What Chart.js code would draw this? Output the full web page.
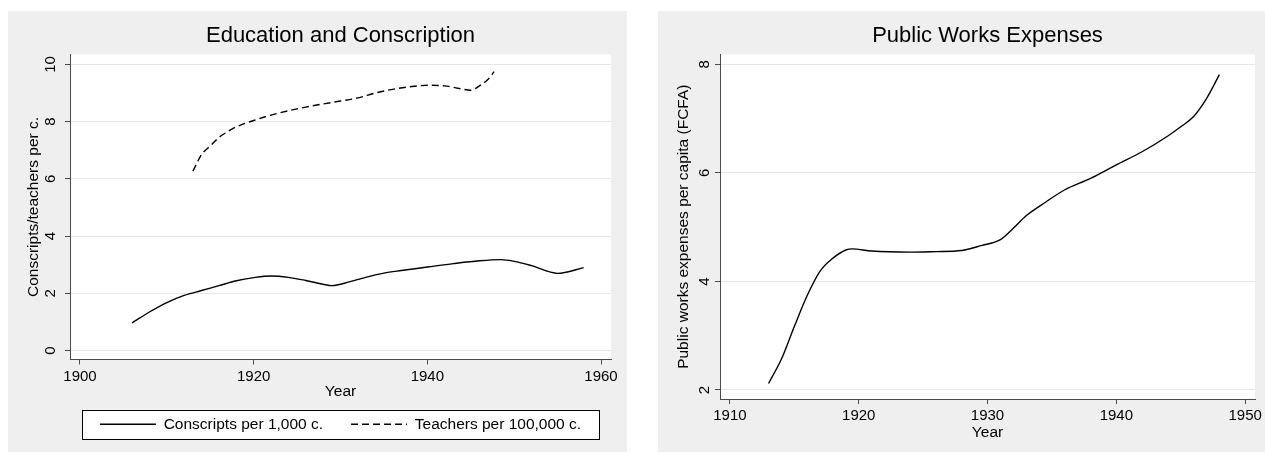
<!DOCTYPE html>
<html>
<head>
<meta charset="utf-8">
<title>Education and Conscription / Public Works Expenses</title>
<script src="https://cdn.jsdelivr.net/npm/chart.js@4.4.1/dist/chart.umd.min.js"></script>
<style>
  html, body { margin: 0; padding: 0; background: #ffffff; }
  body { width: 1265px; height: 454px; position: relative; overflow: hidden; }
  .panel { position: absolute; top: 11px; height: 441px; background: #efefef; }
  #leftPanel { left: 8px; width: 619px; }
  #rightPanel { left: 658px; width: 607px; }
  canvas { display: block; }
</style>
</head>
<body>
<div class="panel" id="leftPanel"><canvas id="eduChart" width="619" height="441"></canvas></div>
<div class="panel" id="rightPanel"><canvas id="worksChart" width="607" height="441"></canvas></div>
<script>
// Conscripts per 1,000 c.
const conscriptYears = [1906, 1908, 1910, 1912, 1914, 1916, 1918, 1920, 1922, 1924, 1926, 1928, 1929, 1931, 1933, 1935, 1937, 1940, 1943, 1946, 1948.5, 1950, 1952, 1955, 1958];
const conscriptValues = [0.97, 1.35, 1.68, 1.93, 2.1, 2.27, 2.44, 2.55, 2.61, 2.56, 2.45, 2.32, 2.27, 2.4, 2.57, 2.71, 2.8, 2.92, 3.04, 3.14, 3.18, 3.12, 2.97, 2.7, 2.9];

// Teachers per 100,000 c.
const teacherYears = [1913, 1914, 1915, 1916, 1917, 1918, 1920, 1922, 1924, 1926, 1928, 1930, 1932, 1934, 1936, 1938, 1940, 1942, 1943, 1945, 1946, 1947, 1947.7];
const teacherValues = [6.27, 6.85, 7.15, 7.45, 7.65, 7.82, 8.04, 8.23, 8.38, 8.51, 8.62, 8.72, 8.83, 9.0, 9.13, 9.22, 9.27, 9.25, 9.2, 9.1, 9.25, 9.48, 9.75];

// Public works expenses per capita (FCFA)
const worksYears = [1913, 1914, 1915, 1916, 1917, 1918, 1919, 1919.5, 1921, 1924, 1926, 1928, 1929.5, 1931, 1932, 1933, 1934.5, 1936, 1938, 1940, 1942, 1944, 1945, 1946, 1947, 1948];
const worksValues = [2.12, 2.57, 3.17, 3.74, 4.19, 4.43, 4.58, 4.6, 4.56, 4.54, 4.55, 4.57, 4.66, 4.77, 4.98, 5.21, 5.46, 5.69, 5.9, 6.15, 6.39, 6.68, 6.85, 7.04, 7.37, 7.81];

// tick labels
const eduXTicks = [1900, 1920, 1940, 1960];
const eduYTicks = [0, 2, 4, 6, 8, 10];
const worksXTicks = [1910, 1920, 1930, 1940, 1950];
const worksYTicks = [2, 4, 6, 8];

const fontFamily = "Arial, 'Liberation Sans', sans-serif";
const axisColor = "#4a4a4a";
const gridColor = "#e6e6e6";
Chart.defaults.font.family = fontFamily;
Chart.defaults.color = "#000000";

const toPoints = (xs, ys) => xs.map((x, i) => ({ x: x, y: ys[i] }));

// white plot region inside the grey graph region
const plotBackground = {
  id: "plotBackground",
  beforeDraw(chart) {
    const { ctx, chartArea: a } = chart;
    ctx.save();
    ctx.fillStyle = "#ffffff";
    ctx.fillRect(a.left, a.top, a.right - a.left, a.bottom - a.top);
    ctx.restore();
  },
};

// framed white box behind the legend, Stata style
const legendFrame = {
  id: "legendFrame",
  beforeDraw(chart) {
    const legend = chart.legend;
    if (!legend || !legend.options.display) return;
    const { ctx, chartArea: a } = chart;
    const cx = (a.left + a.right) / 2;
    const cy = legend.top + legend.options.labels.padding + legend.options.labels.font.size / 2;
    const w = 517;
    const h = 29;
    ctx.save();
    ctx.fillStyle = "#ffffff";
    ctx.strokeStyle = "#000000";
    ctx.lineWidth = 1;
    ctx.fillRect(cx - w / 2, cy - h / 2, w, h);
    ctx.strokeRect(Math.round(cx - w / 2) + 0.5, Math.round(cy - h / 2) + 0.5, w, h);
    ctx.restore();
  },
};

function xScale(min, max, ticks, height, titlePadBottom) {
  return {
    type: "linear",
    min: min,
    max: max,
    afterBuildTicks: (s) => { s.ticks = ticks.map((v) => ({ value: v })); },
    afterFit: (s) => { s.height = height; },
    border: { color: axisColor, width: 1 },
    grid: { drawOnChartArea: false, tickLength: 5, tickColor: axisColor },
    ticks: {
      padding: 3,
      maxRotation: 0,
      color: "#000000",
      font: { size: 15 },
      callback: (v) => String(v),
    },
    title: {
      display: true,
      text: "Year",
      color: "#000000",
      font: { size: 15.5 },
      padding: { top: 0, bottom: titlePadBottom },
    },
  };
}

function yScale(min, max, ticks, label) {
  return {
    min: min,
    max: max,
    afterBuildTicks: (s) => { s.ticks = ticks.map((v) => ({ value: v })); },
    afterFit: (s) => { s.width = 62; },
    border: { color: axisColor, width: 1 },
    grid: { color: gridColor, lineWidth: 1, tickLength: 5, tickColor: axisColor },
    ticks: {
      minRotation: 90,
      maxRotation: 90,
      crossAlign: "center",
      padding: 6,
      color: "#000000",
      font: { size: 15 },
    },
    title: {
      display: true,
      text: label,
      color: "#000000",
      font: { size: 15.5 },
      padding: { top: 16, bottom: 0 },
    },
  };
}

const titleOptions = (text) => ({
  display: true,
  text: text,
  fullSize: false,
  color: "#000000",
  font: { size: 22, weight: "normal" },
  padding: { top: 12, bottom: 5 },
});

// legend samples keep the dataset's own dash pattern
const lineLegendLabels = (chart) =>
  Chart.defaults.plugins.legend.labels.generateLabels(chart).map((item) => {
    const ds = chart.data.datasets[item.datasetIndex];
    return Object.assign(item, {
      lineDash: ds.borderDash || [],
      lineWidth: ds.borderWidth,
      strokeStyle: ds.borderColor,
      fillStyle: "transparent",
    });
  });

// Education and Conscription
const eduCtx = document.getElementById("eduChart").getContext("2d");
window.eduChart = new Chart(eduCtx, {
  type: "line",
  data: {
    datasets: [
      {
        label: "Conscripts per 1,000 c.",
        data: toPoints(conscriptYears, conscriptValues),
        borderColor: "#000000",
        backgroundColor: "transparent",
        borderWidth: 1.4,
        pointRadius: 0,
        cubicInterpolationMode: "monotone",
      },
      {
        label: "Teachers per 100,000 c.",
        data: toPoints(teacherYears, teacherValues),
        borderColor: "#000000",
        backgroundColor: "transparent",
        borderWidth: 1.4,
        borderDash: [7, 4],
        pointRadius: 0,
        cubicInterpolationMode: "monotone",
      },
    ],
  },
  options: {
    responsive: false,
    animation: false,
    layout: { padding: { left: 0, right: 16, top: 0, bottom: 10 } },
    scales: {
      x: xScale(1898.85, 1961.15, eduXTicks, 29, -13),
      y: yScale(-0.31, 10.35, eduYTicks, "Conscripts/teachers per c."),
    },
    plugins: {
      title: titleOptions("Education and Conscription"),
      legend: {
        display: true,
        position: "bottom",
        fullSize: false,
        labels: {
          usePointStyle: true,
          pointStyle: "line",
          pointStyleWidth: 56,
          padding: 28,
          color: "#000000",
          font: { size: 15.5 },
          generateLabels: lineLegendLabels,
        },
      },
      tooltip: { enabled: false },
    },
  },
  plugins: [plotBackground, legendFrame],
});

// Public Works Expenses
const worksCtx = document.getElementById("worksChart").getContext("2d");
window.worksChart = new Chart(worksCtx, {
  type: "line",
  data: {
    datasets: [
      {
        label: "Public works expenses per capita (FCFA)",
        data: toPoints(worksYears, worksValues),
        borderColor: "#000000",
        backgroundColor: "transparent",
        borderWidth: 1.4,
        pointRadius: 0,
        cubicInterpolationMode: "monotone",
      },
    ],
  },
  options: {
    responsive: false,
    animation: false,
    layout: { padding: { left: 0, right: 4, top: 0, bottom: 10 } },
    scales: {
      x: xScale(1909.23, 1950.77, worksXTicks, 43, 0),
      y: yScale(1.834, 8.184, worksYTicks, "Public works expenses per capita (FCFA)"),
    },
    plugins: {
      title: titleOptions("Public Works Expenses"),
      legend: { display: false },
      tooltip: { enabled: false },
    },
  },
  plugins: [plotBackground],
});
</script>
</body>
</html>
